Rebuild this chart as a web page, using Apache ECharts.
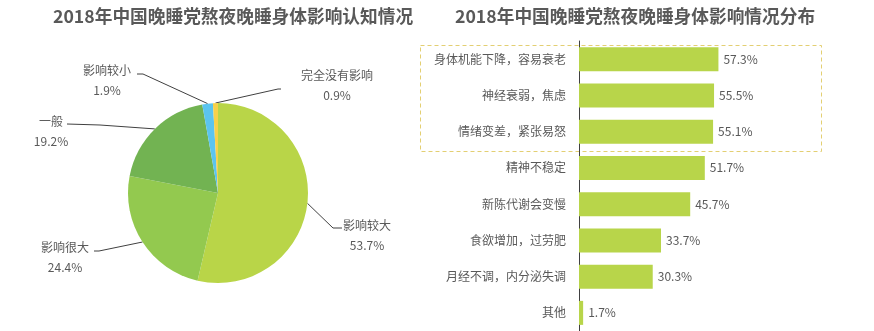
<!DOCTYPE html>
<html><head><meta charset="utf-8">
<script src="https://cdn.jsdelivr.net/npm/echarts@6/dist/echarts.min.js"></script>
<style>html,body{margin:0;padding:0;background:#fff}#c{width:874px;height:331px}</style>
</head><body><div id="c"></div>
<script>
const pieNames = ['影响较大','影响很大','一般','影响较小','完全没有影响'];
const pieValues = [53.7, 24.4, 19.2, 1.9, 0.9];
const pieColors = ['#b9d548','#93c94f','#72b352','#5bc4ef','#f7d14a'];
const barCategories = ['身体机能下降，容易衰老','神经衰弱，焦虑','情绪变差，紧张易怒','精神不稳定','新陈代谢会变慢','食欲增加，过劳肥','月经不调，内分泌失调','其他'];
const barValues = [57.3, 55.5, 55.1, 51.7, 45.7, 33.7, 30.3, 1.7];

// label layout for pie (text anchor, elbow, line end)
const pieLabelPos = [
  {x:367, y:235, elbow:[333,228], end:[342,228]},
  {x:65,  y:257, elbow:[99,251],  end:[94,251]},
  {x:51,  y:131, elbow:[100,125], end:[67,124]},
  {x:107, y:80,  elbow:[143,74],  end:[137,74]},
  {x:337, y:85,  elbow:[278,89],  end:[281,89]}
];

const FONT = '"Noto Sans CJK SC", "Noto Sans", sans-serif';
const chart = echarts.init(document.getElementById('c'), null, {renderer:'canvas'});
chart.setOption({
  animation:false,
  textStyle:{fontFamily:FONT},
  title:[
    {text:'2018年中国晚睡党熬夜晚睡身体影响认知情况', left:48, top:2,
     textStyle:{fontSize:17.7, fontWeight:'bold', color:'#595959', fontFamily:FONT}},
    {text:'2018年中国晚睡党熬夜晚睡身体影响情况分布', left:450, top:2,
     textStyle:{fontSize:17.7, fontWeight:'bold', color:'#595959', fontFamily:FONT}}
  ],
  graphic:[{
    type:'rect', left:418, top:43, shape:{width:401, height:106},
    style:{fill:'none', stroke:'#e3cf72', lineWidth:1, lineDash:[4,3]}, z:0
  }],
  grid:{left:579, top:41, width:146, height:291},
  xAxis:{type:'value', min:0, max:60, show:false},
  yAxis:{type:'category', data:barCategories, inverse:true,
    axisLine:{lineStyle:{color:'#404040', width:1}}, axisTick:{show:false},
    axisLabel:{color:'#595959', fontSize:12, margin:13, fontFamily:FONT},
    splitLine:{show:false}},
  series:[
    {type:'pie', center:[218,193], radius:90, startAngle:90, clockwise:true,
     data:pieNames.map((n,i)=>({name:n, value:pieValues[i], itemStyle:{color:pieColors[i]}})),
     label:{show:true, formatter:'{b}\n{c}%', color:'#595959', fontSize:12, lineHeight:20, align:'center', fontFamily:FONT},
     labelLine:{show:true, lineStyle:{color:'#404040', width:1}},
     labelLayout:function(p){
       const t = pieLabelPos[p.dataIndex];
       const pts = p.labelLinePoints || [[0,0]];
       return {x:t.x, y:t.y, align:'center', verticalAlign:'middle',
         labelLinePoints:[pts[0], t.elbow, t.end]};
     },
     emphasis:{disabled:true}
    },
    {type:'bar', data:barValues, barWidth:24, itemStyle:{color:'#b8d54a'},
     label:{show:true, position:'right', distance:5, formatter:'{c}%', color:'#595959', fontSize:12, fontFamily:FONT}}
  ]
});
</script></body></html>
